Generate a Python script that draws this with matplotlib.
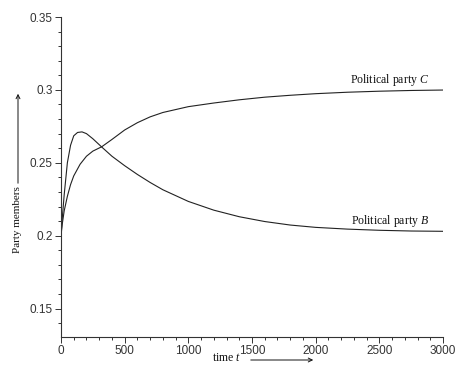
import matplotlib
matplotlib.use("Agg")
import matplotlib.pyplot as plt
from matplotlib.patches import FancyArrowPatch
from matplotlib.ticker import MultipleLocator

plt.rcParams["mathtext.fontset"] = "custom"
plt.rcParams["mathtext.it"] = "Liberation Serif:italic"
plt.rcParams["mathtext.rm"] = "Liberation Serif"

# values
t_c = [0, 10, 25, 50, 75, 100, 150, 200, 250, 320, 400, 500, 600, 700, 800,
       1000, 1200, 1400, 1600, 1800, 2000, 2250, 2500, 2750, 3000]
party_c = [0.200, 0.208, 0.217, 0.227, 0.235, 0.241, 0.249, 0.2545, 0.2580,
           0.2610, 0.2660, 0.2725, 0.2775, 0.2815, 0.2845, 0.2885, 0.2910,
           0.2932, 0.2950, 0.2963, 0.2974, 0.2984, 0.2991, 0.2996, 0.2999]

t_b = [0, 10, 25, 50, 75, 100, 130, 165, 200, 250, 320, 400, 500, 600, 700,
       800, 1000, 1200, 1400, 1600, 1800, 2000, 2250, 2500, 2750, 3000]
party_b = [0.200, 0.212, 0.228, 0.250, 0.262, 0.2685, 0.2708, 0.2712, 0.2700,
           0.2665, 0.2608, 0.2545, 0.2480, 0.2420, 0.2365, 0.2315, 0.2235,
           0.2175, 0.2130, 0.2097, 0.2073, 0.2057, 0.2045, 0.2037, 0.2032,
           0.2030]

x_ticks = [0, 500, 1000, 1500, 2000, 2500, 3000]
y_ticks = [0.15, 0.2, 0.25, 0.3, 0.35]
y_tick_labels = ["0.15", "0.2", "0.25", "0.3", "0.35"]

W, H = 458, 370
fig = plt.figure(figsize=(W / 100, H / 100), dpi=100)
ax = fig.add_axes([61 / W, (H - 337) / H, 382 / W, 320 / H])

line_color = "#222222"
ax.plot(t_c, party_c, color=line_color, lw=0.8)
ax.plot(t_b, party_b, color=line_color, lw=0.8)

ax.set_xlim(0, 3000)
ax.set_ylim(0.1305, 0.35)
ax.set_xticks(x_ticks)
ax.set_yticks(y_ticks)
ax.set_yticklabels(y_tick_labels)
ax.xaxis.set_minor_locator(MultipleLocator(100))
ax.yaxis.set_minor_locator(MultipleLocator(0.01))

for side in ["top", "right"]:
    ax.spines[side].set_visible(False)
for side in ["left", "bottom"]:
    ax.spines[side].set_linewidth(0.8)
    ax.spines[side].set_color("#333333")

ax.tick_params(which="major", direction="out", length=4, width=0.7,
               colors="#333333", labelsize=8.5, pad=2, labelcolor="#333333")
ax.tick_params(which="minor", direction="out", length=2.5, width=0.7,
               colors="#333333")
for lab in ax.get_xticklabels() + ax.get_yticklabels():
    lab.set_family("Liberation Sans")

serif = "Liberation Serif"
ax.text(2890, 0.3015, "Political party $C$", ha="right", va="bottom",
        fontsize=8.5, family=serif, color="#111111")
ax.text(2890, 0.2045, "Political party $B$", ha="right", va="bottom",
        fontsize=8.5, family=serif, color="#111111")

# x label with arrow
fig.text(212 / W, 1 - 358 / H, "time $t$", ha="left", va="center",
         fontsize=8.5, family=serif, color="#111111")
fig.add_artist(FancyArrowPatch(
    (248 / W, 1 - 360 / H), (316 / W, 1 - 360 / H), transform=fig.transFigure,
    arrowstyle="->", mutation_scale=7, lw=0.7, color="#111111"))

# y label with arrow
fig.text(18 / W, 1 - 220 / H, "Party members", ha="center", va="center",
         rotation=90, fontsize=8, family=serif, color="#111111")
fig.add_artist(FancyArrowPatch(
    (18 / W, 1 - 186 / H), (18 / W, 1 - 91 / H), transform=fig.transFigure,
    arrowstyle="->", mutation_scale=7, lw=0.7, color="#111111"))

fig.savefig("out.png", dpi=100)
